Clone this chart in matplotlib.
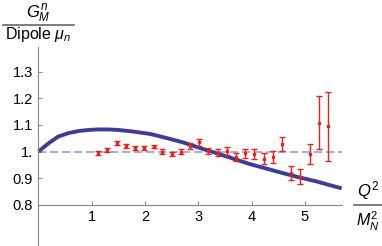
import matplotlib.pyplot as plt
from matplotlib.lines import Line2D

plt.rcParams['font.family'] = ['Liberation Sans', 'DejaVu Sans']
plt.rcParams['mathtext.fontset'] = 'custom'
plt.rcParams['mathtext.rm'] = 'Liberation Sans'
plt.rcParams['mathtext.it'] = 'Liberation Sans:italic'

# blue theory curve
curve_q2 = [0.0, 0.19, 0.37, 0.56, 0.75, 0.94, 1.12, 1.31, 1.50, 1.78, 2.10, 2.40,
            2.72, 3.02, 3.34, 3.66, 3.97, 4.28, 4.59, 4.90, 5.22, 5.45, 5.69]
curve_ratio = [1.0, 1.031, 1.056, 1.069, 1.077, 1.081, 1.083, 1.083, 1.081, 1.075,
               1.066, 1.051, 1.034, 1.014, 0.994, 0.973, 0.953, 0.936, 0.919, 0.903,
               0.888, 0.875, 0.862]

# red data points with errors
data_q2 = [1.11, 1.29, 1.47, 1.64, 1.81, 1.98, 2.16, 2.32, 2.50, 2.67, 2.84, 3.02, 3.19,
           3.36, 3.53, 3.71, 3.88, 4.05, 4.23, 4.40, 4.57, 4.74, 4.91, 5.09, 5.26, 5.43]
data_ratio = [0.994, 1.006, 1.031, 1.022, 1.013, 1.013, 1.019, 1.000, 0.991, 1.000, 1.021,
              1.034, 1.003, 0.996, 1.003, 0.978, 0.994, 0.990, 0.973, 0.979, 1.029,
              0.919, 0.906, 0.991, 1.108, 1.094]
data_err = [0.007, 0.007, 0.007, 0.007, 0.007, 0.007, 0.007, 0.008, 0.008, 0.009, 0.011,
            0.012, 0.012, 0.013, 0.015, 0.015, 0.017, 0.018, 0.020, 0.022, 0.025,
            0.027, 0.029, 0.037, 0.100, 0.131]

yticks = [0.8, 0.9, 1.0, 1.1, 1.2, 1.3]
ytick_labels = ['0.8', '0.9', '1.', '1.1', '1.2', '1.3']
xticks = [1, 2, 3, 4, 5]

W, H = 382, 246
fig = plt.figure(figsize=(W / 100, H / 100), dpi=100)
ax = fig.add_axes([38.4 / W, 0.0, (341.7 - 38.4) / W, (246 - 47) / H])
ax.set_xlim(0, 5.69)
ax.set_ylim(0.646, 1.392)

ax.axhline(1.0, color='#9d9dd0', lw=1.2, dashes=(5, 2.2), zorder=1)
ax.plot(curve_q2, curve_ratio, color='#3d3d99', lw=2.8, zorder=2,
        solid_capstyle='butt', clip_on=False)
ax.errorbar(data_q2, data_ratio, yerr=data_err, fmt='s', ms=1.7, color='#e8221b',
            ecolor='#e8221b', elinewidth=1.0, capsize=2.2, capthick=1.0, zorder=3)

for s in ['top', 'right']:
    ax.spines[s].set_visible(False)
ax.spines['bottom'].set_position(('data', 0.8))
for s in ['left', 'bottom']:
    ax.spines[s].set_color('#888888')
    ax.spines[s].set_linewidth(0.8)

ax.set_xticks(xticks)
ax.set_xticklabels([str(t) for t in xticks])
ax.set_yticks(yticks)
ax.set_yticklabels(ytick_labels)
ax.tick_params(direction='in', length=3, width=0.7, color='#888888',
               labelsize=10.5, pad=4)

# axis labels as fractions
fig.text(38 / W, 1 - 14 / H, r'$G_M^n$', ha='center', va='center', fontsize=12)
fig.text(38 / W, 1 - 35 / H, r'Dipole $\mu_n$', ha='center', va='center', fontsize=11.5)
fig.add_artist(Line2D([3 / W, 74 / W], [1 - 25 / H, 1 - 25 / H], color='#666666', lw=1.2))

fig.text(368 / W, 1 - 191 / H, r'$Q^2$', ha='center', va='center', fontsize=12)
fig.text(368 / W, 1 - 221 / H, r'$M_N^2$', ha='center', va='center', fontsize=11.5)
fig.add_artist(Line2D([354 / W, 382 / W], [1 - 205 / H, 1 - 205 / H], color='#666666', lw=1.2))

fig.savefig('out.png', dpi=100)
